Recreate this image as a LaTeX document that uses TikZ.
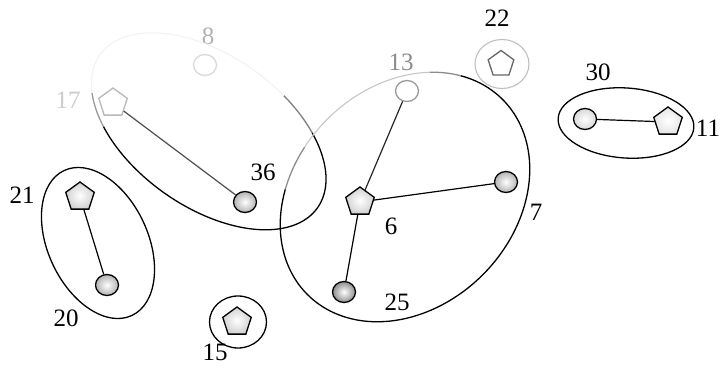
\documentclass[tikz,border=0pt]{standalone}
\usepackage{fontspec}
\setmainfont{Liberation Serif}
\usetikzlibrary{shapes.geometric}
\begin{document}
\begin{tikzpicture}[x=1pt,y=-1pt,
  every node/.style={font=\fontsize{25}{28}\selectfont},
  lbl/.style={inner sep=0pt},
  ball/.style={ellipse, draw, line width=1.3pt, minimum width=23pt, minimum height=21pt, inner sep=0pt,
     shade, shading=radial, inner color=white, outer color=black!30},
  darkball/.style={ball, outer color=black!45},
  pent/.style={regular polygon, regular polygon sides=5, draw, line width=1.3pt, minimum size=30pt, inner sep=0pt,
     shade, shading=radial, inner color=white, outer color=black!18},
  faint/.style={draw=black!18, line width=1.1pt},
  edge/.style={line width=1.2pt},
  grp/.style={line width=1.3pt}]
\useasboundingbox (0,0) rectangle (720,366);

% nodes
\node[pent, draw=black!28, fill=white, shade=false] (n17) at (113,103) {};
\node[ball, draw=black!15, shade=false, fill=white] (n8) at (205,65) {};
\node[ball] (n36) at (245,202) {};
\node[pent] (n21) at (80,197) {};
\node[ball] (n20) at (107,285) {};
\node[pent] (n15) at (237,322) {};
\node[ball, draw=black!40, shade=false, fill=white] (n13) at (407,91) {};
\node[pent, draw=black!60, minimum size=27pt, shade=false, fill=white] (n22) at (501,64) {};
\node[pent] (n6) at (360,202) {};
\node[ball] (n7) at (506,182) {};
\node[darkball] (n25) at (344,292) {};
\node[ball, outer color=black!15] (n30) at (585,119) {};
\node[pent, outer color=black!10] (n11) at (668,122) {};

% labels
\node[lbl, text=black!20] (l17) at (68,100) {17};
\node[lbl, text=black!30] (l8) at (208,36) {8};
\node[lbl] (l36) at (263,172) {36};
\node[lbl] (l21) at (22,195) {21};
\node[lbl] (l20) at (66,318) {20};
\node[lbl] (l15) at (215,352) {15};
\node[lbl, text=black!45] (l13) at (401,62) {13};
\node[lbl] (l22) at (497,18) {22};
\node[lbl] (l6) at (391,226) {6};
\node[lbl] (l7) at (536,212) {7};
\node[lbl] (l25) at (397,302) {25};
\node[lbl] (l30) at (598,72) {30};
\node[lbl] (l11) at (708,128) {11};

% connectors
\draw[edge, draw=black!70] (n17) -- (n36);
\draw[edge] (n21) -- (n20);
\draw[edge, draw=black!85] (n13) -- (n6);
\draw[edge] (n6) -- (n7);
\draw[edge] (n6) -- (n25);
\draw[edge] (n30) -- (n11);

% group outlines
\draw[grp, shift={(98,243)}, rotate=-65] (0,0) ellipse [x radius=80, y radius=50];
\draw[grp, shift={(626,123)}, rotate=-4] (0,0) ellipse [x radius=68, y radius=35];
\draw[grp] (238,322) ellipse [x radius=28.5, y radius=26];
\draw[faint, draw=black!25] (502,64) ellipse [x radius=27, y radius=24.5];

% big group 17/8/36 (partly faded)
\def\ea{133}\def\eb{76}
\draw[grp] plot[domain=-50:132, samples=80, smooth]
  ({208.7 + \ea*cos(\x)*0.819 - \eb*sin(\x)*0.574}, {131.3 + \ea*cos(\x)*0.574 + \eb*sin(\x)*0.819});
\draw[grp, draw=black!50] plot[domain=-72:-50, samples=12, smooth]
  ({208.7 + \ea*cos(\x)*0.819 - \eb*sin(\x)*0.574}, {131.3 + \ea*cos(\x)*0.574 + \eb*sin(\x)*0.819});
\draw[grp, draw=black!40] plot[domain=132:152, samples=10, smooth]
  ({208.7 + \ea*cos(\x)*0.819 - \eb*sin(\x)*0.574}, {131.3 + \ea*cos(\x)*0.574 + \eb*sin(\x)*0.819});
\draw[faint, draw=black!5] plot[domain=152:288, samples=60, smooth]
  ({208.7 + \ea*cos(\x)*0.819 - \eb*sin(\x)*0.574}, {131.3 + \ea*cos(\x)*0.574 + \eb*sin(\x)*0.819});

% big group 13/6/7/25 (upper-left arc faded)
\def\ba{138}\def\bb{110}
\draw[grp] plot[domain=-25:235, samples=120, smooth]
  ({405 + \ba*cos(\x)*0.707 + \bb*sin(\x)*0.707}, {197 - \ba*cos(\x)*0.707 + \bb*sin(\x)*0.707});
\draw[grp, draw=black!45] plot[domain=235:255, samples=10, smooth]
  ({405 + \ba*cos(\x)*0.707 + \bb*sin(\x)*0.707}, {197 - \ba*cos(\x)*0.707 + \bb*sin(\x)*0.707});
\draw[grp, draw=black!45] plot[domain=-40:-25, samples=10, smooth]
  ({405 + \ba*cos(\x)*0.707 + \bb*sin(\x)*0.707}, {197 - \ba*cos(\x)*0.707 + \bb*sin(\x)*0.707});
\draw[faint, draw=black!22] plot[domain=255:320, samples=40, smooth]
  ({405 + \ba*cos(\x)*0.707 + \bb*sin(\x)*0.707}, {197 - \ba*cos(\x)*0.707 + \bb*sin(\x)*0.707});
\end{tikzpicture}
\end{document}
